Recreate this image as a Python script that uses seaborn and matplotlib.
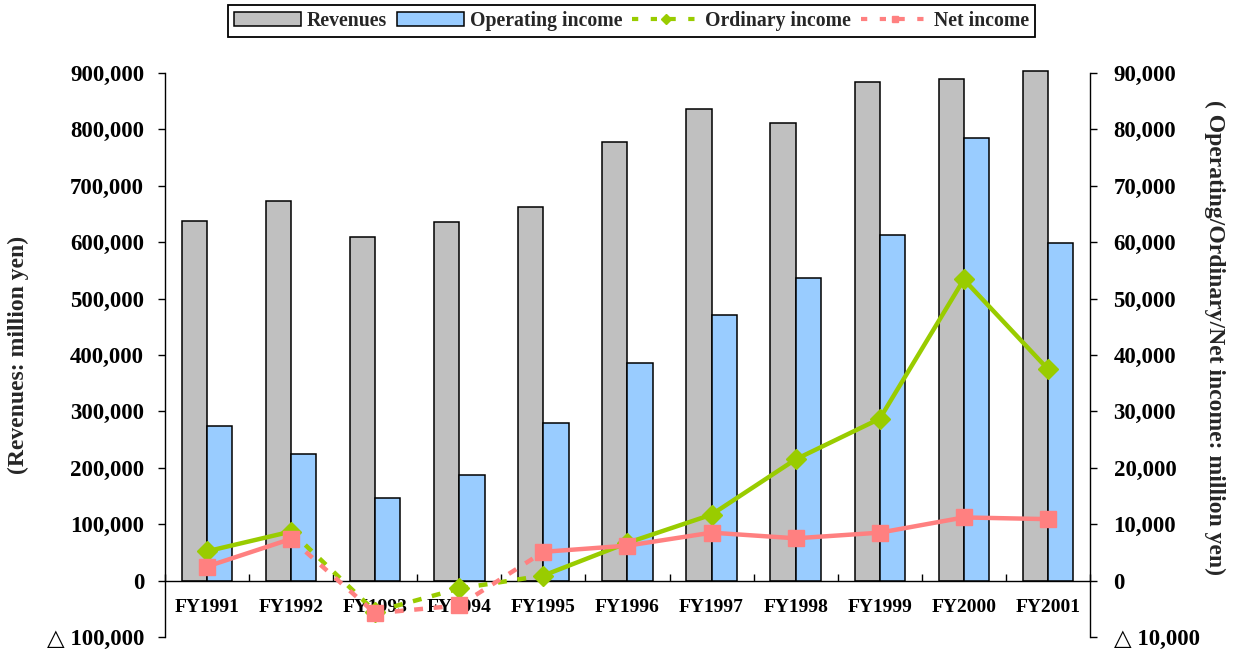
import numpy as np
import matplotlib
matplotlib.use('Agg')
import matplotlib.pyplot as plt
import seaborn as sns
from matplotlib.lines import Line2D
from matplotlib.patches import Patch
from matplotlib.ticker import FuncFormatter, MultipleLocator

years = ['FY1991', 'FY1992', 'FY1993', 'FY1994', 'FY1995', 'FY1996',
         'FY1997', 'FY1998', 'FY1999', 'FY2000', 'FY2001']
revenues = [638000, 673500, 610000, 635000, 662000, 778000,
            836500, 810500, 883500, 889500, 903500]
operating_income = [27400, 22500, 14600, 18700, 28000, 38500,
                    47100, 53700, 61300, 78400, 59900]
ordinary_income = [5200, 8700, -5500, -1400, 900, 6700,
                   11700, 21500, 28700, 53400, 37500]
net_income = [2500, 7400, -5800, -4400, 5100, 6200,
              8500, 7500, 8500, 11200, 10900]

GRAY = '#C0C0C0'
BLUE = '#99CCFF'
GREEN = '#99CC00'
PINK = '#FF8080'

sns.set_theme(style='ticks')
plt.rcParams['font.family'] = ['Liberation Serif', 'DejaVu Sans']
plt.rcParams['font.weight'] = 'bold'
plt.rcParams['axes.edgecolor'] = 'black'
plt.rcParams['xtick.color'] = 'black'
plt.rcParams['ytick.color'] = 'black'

fig = plt.figure(figsize=(12.39, 6.53), dpi=100)
ax = fig.add_axes([0.1332, 0.0245, 0.7465, 0.8637])
ax2 = ax.twinx()

pos = np.arange(len(years))

# bars: revenues on the left scale, operating income on the right scale
sns.barplot(x=pos - 0.15, y=revenues, native_scale=True, width=0.3,
            color=GRAY, saturation=1, edgecolor='black', linewidth=1.1, ax=ax)
sns.barplot(x=pos + 0.15, y=operating_income, native_scale=True, width=0.3,
            color=BLUE, saturation=1, edgecolor='black', linewidth=1.1, ax=ax2)
for p in ax.patches:
    p.set_clip_on(False)


# income lines: solid between positive points, dashed where a loss is involved
def draw_income(values, color, marker, ms, z):
    for i in range(len(values) - 1):
        neg = values[i] < 0 or values[i + 1] < 0
        ax2.plot(pos[i:i + 2], values[i:i + 2], color=color, lw=3.2,
                 linestyle=(0, (2, 2.4)) if neg else '-',
                 solid_capstyle='butt', dash_capstyle='butt', zorder=z)
    ax2.plot(pos, values, linestyle='none', marker=marker, ms=ms,
             color=color, mec=color, zorder=z + 0.5)


draw_income(ordinary_income, GREEN, 'D', 10, 4)
draw_income(net_income, PINK, 's', 11.5, 5)

ax.set_xlim(-0.5, len(years) - 0.5)
ax.set_ylim(-100000, 900000)
ax2.set_ylim(-10000, 90000)


def jp_fmt(v, _):
    if v < 0:
        return '\u25b3 {:,}'.format(int(round(abs(v))))
    return '{:,}'.format(int(round(v)))


ax.yaxis.set_major_locator(MultipleLocator(100000))
ax2.yaxis.set_major_locator(MultipleLocator(10000))
ax.yaxis.set_major_formatter(FuncFormatter(jp_fmt))
ax2.yaxis.set_major_formatter(FuncFormatter(jp_fmt))

ax.spines['top'].set_visible(False)
ax.spines['right'].set_visible(False)
ax.spines['bottom'].set_position(('data', 0))
for s in ['top', 'left', 'bottom']:
    ax2.spines[s].set_visible(False)
for a in (ax, ax2):
    for s in a.spines.values():
        s.set_linewidth(1.0)

ax.set_xticks(pos)
ax.set_xticklabels(years)
ax.set_xticks(np.arange(-0.5, len(years), 1), minor=True)
ax.tick_params(axis='x', which='major', length=0, pad=13, labelsize=14)
ax.tick_params(axis='x', which='minor', direction='in', length=5, width=1)
ax2.tick_params(axis='x', which='both', length=0, labelbottom=False)
ax.tick_params(axis='y', direction='out', length=5, width=1, pad=10, labelsize=16.5)
ax2.tick_params(axis='y', direction='out', length=5, width=1, pad=12, labelsize=16.5)
ax.set_ylabel('')
ax2.set_ylabel('')

fig.text(18 / 1239, 0.4564, '(Revenues: million yen)', rotation=90,
         ha='center', va='center', fontsize=17, fontweight='bold')
fig.text(1215 / 1239, 0.4832, '( Operating/Ordinary/Net income: million yen)',
         rotation=270, ha='center', va='center', fontsize=17, fontweight='bold')

handles = [
    Patch(facecolor=GRAY, edgecolor='black', linewidth=1.1),
    Patch(facecolor=BLUE, edgecolor='black', linewidth=1.1),
    Line2D([], [], color=GREEN, lw=3, linestyle=(0, (1.5, 3)), marker='D', ms=5),
    Line2D([], [], color=PINK, lw=3, linestyle=(0, (1.5, 3)), marker='s', ms=5),
]
labels = ['Revenues', 'Operating income', 'Ordinary income', 'Net income']
leg = fig.legend(handles, labels, loc='upper center', bbox_to_anchor=(0.5097, 0.9923),
                 borderaxespad=0, ncol=4, frameon=True, fancybox=False, framealpha=1,
                 edgecolor='black', handlelength=3.4,
                 handletextpad=0.3, columnspacing=0.5, borderpad=0.3,
                 prop={'weight': 'bold', 'size': 14.2})
leg.get_frame().set_linewidth(1.3)

fig.savefig('out.png', dpi=100)
